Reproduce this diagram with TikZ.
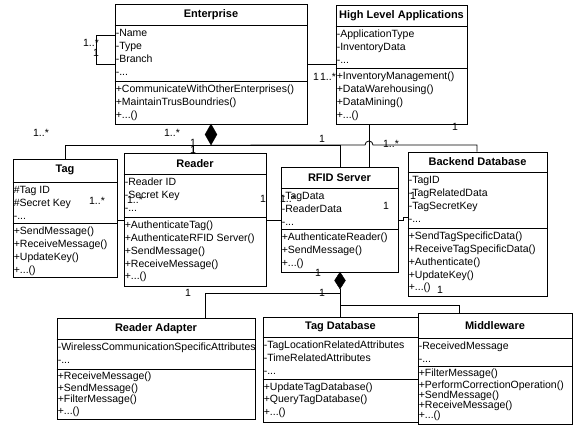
\documentclass[tikz,border=0pt]{standalone}
\usepackage{fontspec}
\setmainfont{Liberation Sans}
\usetikzlibrary{shapes.geometric,fit}

\tikzset{
  classframe/.style={draw, line width=0.8pt, inner sep=0pt},
  classtitle/.style={font=\fontsize{11}{13}\selectfont\bfseries, inner sep=0pt},
  members/.style={anchor=north west, align=left, inner xsep=1pt, inner ysep=2.5pt},
  mult/.style={font=\fontsize{10.5}{12}\selectfont, inner sep=0pt},
  compose/.style={diamond, fill=black, draw, inner sep=0pt},
  link/.style={line width=0.8pt},
}

% #1 line skip of the operations, #2 name, #3 north west, #4 south east,
% #5 and #6 the two dividers, #7 title, #8 attributes, #9 operations
\newcommand{\umlclass}[9][12.8]{%
  \node[classframe, fit={(#3) (#4)}] (#2) {};
  \draw[link] (#2.west |- 0,#5) -- (#2.east |- 0,#5)
              (#2.west |- 0,#6) -- (#2.east |- 0,#6);
  \path (#2.north) -- (#2.north |- 0,#5) node[midway, classtitle] (#2-title) {#7};
  \node[members, font=\fontsize{10.5}{13}\selectfont] (#2-attr) at (#2.west |- 0,#5) {\strut#8};
  \node[members, font=\fontsize{10.5}{#1}\selectfont] (#2-ops) at (#2.west |- 0,#6) {\strut#9};
}

\begin{document}
\begin{tikzpicture}[x=1pt, y=-1pt]
  \useasboundingbox (0,0) rectangle (583,436);

  % classes
  \umlclass{ent}{115,4}{307,124}{25}{81}{Enterprise}
    {-Name\\-Type\\-Branch\\-...}
    {+CommunicateWithOtherEnterprises()\\+MaintainTrusBoundries()\\+...()}
  \umlclass{hla}{336,5}{467,124}{26}{68}{High Level Applications}
    {-ApplicationType\\-InventoryData\\-...}
    {+InventoryManagement()\\+DataWarehousing()\\+DataMining()\\+...()}
  \umlclass{tag}{13,159}{117,277}{182}{223}{Tag}
    {\#Tag ID\\\#Secret Key\\-...}
    {+SendMessage()\\+ReceiveMessage()\\+UpdateKey()\\+...()}
  \umlclass{reader}{124,153}{266,286}{174}{217}{Reader}
    {-Reader ID\\-Secret Key\\-...}
    {+AuthenticateTag()\\+AuthenticateRFID Server()\\+SendMessage()\\+ReceiveMessage()\\+...()}
  \umlclass{rfid}{281,167}{398,272}{188}{229}{RFID Server}
    {-TagData\\-ReaderData\\-...}
    {+AuthenticateReader()\\+SendMessage()\\+...()}
  \umlclass{backend}{408,152}{547,296}{172}{228}{Backend Database}
    {-TagID\\-TagRelatedData\\-TagSecretKey\\-...}
    {+SendTagSpecificData()\\+ReceiveTagSpecificData()\\+Authenticate()\\+UpdateKey()\\+...()}
  \umlclass[11.5]{radapt}{57,318}{255,419}{339}{369}{Reader Adapter}
    {-WirelessCommunicationSpecificAttributes\\-...}
    {+ReceiveMessage()\\+SendMessage()\\+FilterMessage()\\+...()}
  \umlclass[12.5]{tagdb}{263,317}{418,422}{337}{379}{Tag Database}
    {-TagLocationRelatedAttributes\\-TimeRelatedAttributes\\-...}
    {+UpdateTagDatabase()\\+QueryTagDatabase()\\+...()}
  \umlclass[10.3]{mw}{418,313}{572,424}{338}{366}{Middleware}
    {-ReceivedMessage\\-...}
    {+FilterMessage()\\+PerformCorrectionOperation()\\+SendMessage()\\+ReceiveMessage()\\+...()}

  % composition diamonds
  \node[compose, minimum width=12pt, minimum height=21pt] (ent-dia) at (211,134.5) {};
  \node[compose, minimum width=11pt, minimum height=17pt] (rfid-dia) at (340,280.5) {};
  \coordinate (j1) at (340,293);
  \coordinate (j2) at (340,305);

  % associations
  \draw[link] (ent.west |- 0,35) -| (96,64) -- (ent.west |- 0,64);
  \draw[link] (ent.east |- 0,64) -- (hla.west |- 0,64);
  \draw[link] (tag.north -| 65,0) |- (ent-dia.south);
  \draw[link] (reader.north -| 193,0) |- (ent-dia.south);
  \draw[link] (rfid.north -| 340,0) |- (ent-dia.south);
  \draw[link] (ent-dia.south) -- (365,145) arc[start angle=180, end angle=0, radius=4pt]
    -- (477,145) -- (backend.north -| 477,0);
  \draw[link] (hla.south -| 369,0) -- (rfid.north -| 369,0);
  \draw[link] (tag.east |- 0,220) -- (reader.west |- 0,220);
  \draw[link] (reader.east |- 0,220) -- (rfid.west |- 0,220);
  \draw[link] (rfid.east |- 0,220) -| (403,217) -- (backend.west |- 0,217);
  \draw[link] (rfid-dia.south) -- (tagdb.north -| 340,0);
  \draw[link] (radapt.north -| 205,0) |- (j1);
  \draw[link] (j2) -| (mw.north -| 459,0);

  % multiplicities
  \node[mult] (m-self1) at (91,43) {1..*};
  \node[mult] (m-self2) at (96,52.5) {1};
  \node[mult] (m-ent) at (316,77) {1};
  \node[mult] (m-hla) at (328,77) {1..*};
  \node[mult] (m-tag) at (41,133) {1..*};
  \node[mult] (m-reader) at (172,133) {1..*};
  \node[mult] (m-reader2) at (193,142.5) {1};
  \node[mult] (m-reader3) at (193,149.5) {1};
  \node[mult] (m-rfid) at (322,139) {1};
  \node[mult] (m-hla2) at (455,127) {1};
  \node[mult] (m-backend) at (391,144) {1..*};
  \node[mult] (m-tr1) at (97,201) {1..*};
  \node[mult] (m-tr2) at (135,200) {1..*};
  \node[mult] (m-rr1) at (263,199) {1};
  \node[mult] (m-rr2) at (288,199) {1..*};
  \node[mult] (m-rb1) at (386,206) {1};
  \node[mult] (m-rb2) at (413,196) {1};
  \node[mult] (m-backend2) at (440,290) {1};
  \node[mult] (m-adapt) at (188,293) {1};
  \node[mult] (m-db1) at (318,273) {1};
  \node[mult] (m-db2) at (322,293) {1};
\end{tikzpicture}
\end{document}
